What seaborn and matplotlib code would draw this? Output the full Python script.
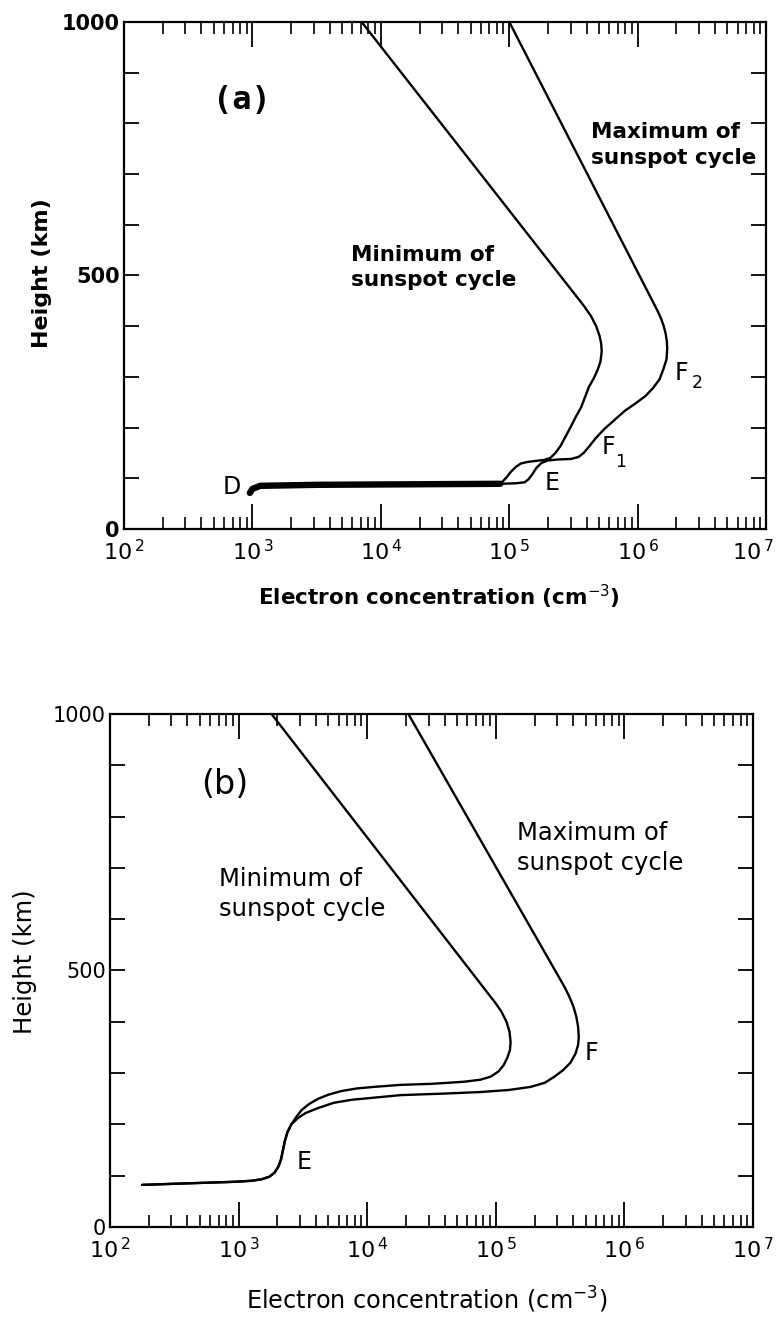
import matplotlib
matplotlib.use("Agg")
import matplotlib.pyplot as plt
import matplotlib.transforms as mtransforms
import numpy as np
import pandas as pd
import seaborn as sns
from matplotlib.ticker import LogLocator, MultipleLocator, NullFormatter

# ---------------------------------------------------------------------------
# Electron concentration versus height in the ionosphere
# (a) daytime profiles, (b) night-time profiles, at sunspot minimum / maximum
# Concentrations are stored as log10(cm^-3), heights in km.
# ---------------------------------------------------------------------------

# Panel (a) -- daytime, sunspot minimum
a_min_logn = [2.98, 3.00, 3.06, 3.50, 4.93, 4.95, 4.98, 5.01, 5.05, 5.09, 5.14,
              5.20, 5.27, 5.32, 5.36, 5.40, 5.44, 5.48, 5.52, 5.56, 5.59, 5.62,
              5.66, 5.69, 5.71, 5.72, 5.716, 5.704, 5.677, 5.636, 5.581, 3.85]
a_min_height = [71, 79, 85, 87, 89, 94, 102, 112, 122, 129, 132,
                134, 136, 140, 150, 164, 183, 202, 222, 240, 260, 280,
                298, 315, 330, 350, 365, 380, 400, 420, 440, 1000]

# Panel (a) -- daytime, sunspot maximum
a_max_logn = [2.98, 3.00, 3.06, 3.50, 4.93, 5.05, 5.12, 5.15, 5.18, 5.21, 5.25,
              5.30, 5.38, 5.48, 5.54, 5.58, 5.62, 5.67, 5.74, 5.82, 5.90, 5.98,
              6.06, 6.12, 6.17, 6.20, 6.225, 6.23, 6.227, 6.218, 6.203, 6.182,
              6.153, 5.00]
a_max_height = [71, 79, 85, 87, 89, 90, 92, 98, 108, 120, 130,
                135, 137, 138, 142, 150, 162, 178, 197, 215, 233, 247,
                262, 278, 295, 315, 335, 355, 370, 385, 400, 415,
                431, 1000]

# Shared D-region segment of the two daytime profiles
a_d_logn = [2.98, 3.00, 3.06, 3.50, 4.93]
a_d_height = [71, 79, 85, 87, 89]

# Panel (b) -- night-time, sunspot minimum
b_min_logn = [2.25, 2.60, 2.97, 3.10, 3.18, 3.24, 3.28, 3.31, 3.33, 3.345, 3.36,
              3.38, 3.41, 3.45, 3.49, 3.55, 3.62, 3.70, 3.80, 3.92, 4.05, 4.26,
              4.50, 4.75, 4.88, 4.96, 5.02, 5.06, 5.09, 5.11, 5.115, 5.107, 5.083,
              5.043, 4.996, 3.256]
b_min_height = [82, 85, 88, 90, 93, 98, 106, 118, 132, 150, 168,
                185, 200, 215, 228, 240, 250, 258, 265, 270, 273, 277,
                279, 283, 287, 293, 303, 315, 330, 345, 360, 380, 400,
                420, 437, 1000]

# Panel (b) -- night-time, sunspot maximum
b_max_logn = [2.25, 2.60, 2.97, 3.10, 3.18, 3.24, 3.28, 3.31, 3.33, 3.345, 3.36,
              3.38, 3.41, 3.46, 3.52, 3.62, 3.74, 3.88, 4.01, 4.26, 4.60, 4.88,
              5.10, 5.27, 5.38, 5.45, 5.52, 5.58, 5.62, 5.64, 5.645, 5.640, 5.626,
              5.603, 5.570, 5.534, 4.32]
b_max_height = [82, 85, 88, 90, 93, 98, 106, 118, 132, 150, 168,
                185, 200, 212, 222, 232, 242, 248, 251, 257, 260, 263,
                267, 273, 281, 292, 305, 320, 338, 355, 370, 390, 410,
                430, 450, 468, 1000]

# Axis ticks and labels
decades = [1e2, 1e3, 1e4, 1e5, 1e6, 1e7]
decade_labels = [r"$10^{\,2}$", r"$10^{\,3}$", r"$10^{\,4}$",
                 r"$10^{\,5}$", r"$10^{\,6}$", r"$10^{\,7}$"]
height_ticks = [0, 500, 1000]
height_labels = ["0", "500", "1000"]

sns.set_theme(style="ticks")
plt.rcParams["font.family"] = ["DejaVu Sans"]
plt.rcParams["mathtext.fontset"] = "dejavusans"
plt.rcParams["text.color"] = "black"
plt.rcParams["axes.labelcolor"] = "black"
plt.rcParams["xtick.color"] = "black"
plt.rcParams["ytick.color"] = "black"

fig = plt.figure(figsize=(7.83, 13.21), dpi=100)
fig.patch.set_facecolor("white")

ax_a = fig.add_axes([0.1584, 0.5996, 0.820, 0.3838])
ax_b = fig.add_axes([0.1405, 0.0712, 0.8212, 0.3883])

LINE_W = 1.7


def draw_profile(ax, logn, height, lw=LINE_W):
    df = pd.DataFrame({"conc": np.power(10.0, logn), "height": height})
    sns.lineplot(data=df, x="conc", y="height", sort=False, estimator=None,
                 color="black", linewidth=lw, ax=ax, legend=False)


def style_axes(ax, weight, ysize):
    ax.set_xscale("log")
    ax.set_xlim(decades[0], decades[-1])
    ax.set_ylim(height_ticks[0], height_ticks[-1])
    for sp in ax.spines.values():
        sp.set_visible(True)
        sp.set_linewidth(1.6)
        sp.set_color("black")
    ax.set_xticks(decades, decade_labels)
    ax.xaxis.set_minor_locator(LogLocator(base=10, subs=range(2, 10), numticks=20))
    ax.xaxis.set_minor_formatter(NullFormatter())
    ax.set_yticks(height_ticks, height_labels)
    ax.yaxis.set_minor_locator(MultipleLocator(100))
    ax.tick_params(axis="x", which="major", direction="in", length=18, width=1.3,
                   top=True, bottom=True, labelsize=16, pad=7)
    ax.tick_params(axis="x", which="minor", direction="in", length=8.5, width=1.2,
                   top=True, bottom=True)
    ax.tick_params(axis="y", which="both", direction="in", length=10.5, width=1.3,
                   left=True, right=True)
    ax.tick_params(axis="y", which="major", labelsize=ysize, pad=3)
    for lab in ax.get_yticklabels():
        lab.set_fontweight(weight)
    ax.set_xlabel("")
    ax.set_ylabel("")
    ax.set_facecolor("white")


XLABEL = r"Electron concentration (cm$^{-3}$)"
YLABEL = "Height (km)"
MIN_LABEL = "Minimum of\nsunspot cycle"
MAX_LABEL = "Maximum of\nsunspot cycle"

# ---------------- panel (a) ----------------
draw_profile(ax_a, a_min_logn, a_min_height)
draw_profile(ax_a, a_max_logn, a_max_height)
draw_profile(ax_a, a_d_logn, a_d_height, lw=4.6)
style_axes(ax_a, "bold", 15)

# keep the right-most decade label inside the figure
last = ax_a.get_xticklabels()[-1]
last.set_transform(last.get_transform()
                   + mtransforms.ScaledTranslation(-13 / 100, 0, fig.dpi_scale_trans))

ax_a.set_xlabel(XLABEL, fontsize=15.5, fontweight="bold")
ax_a.xaxis.set_label_coords(0.49, -0.134)
ax_a.xaxis.label.set_va("center")
ax_a.set_ylabel(YLABEL, fontsize=16, fontweight="bold")
ax_a.yaxis.set_label_coords(-0.128, 0.505)
ax_a.yaxis.label.set_va("center")

ax_a.text(8.3e2, 846, "(a)", family="DejaVu Sans Mono", fontweight="bold",
          fontsize=23, ha="center", va="center")
ax_a.text(5.9e3, 516, MIN_LABEL, fontsize=15.5, fontweight="bold",
          ha="left", va="center", linespacing=1.35)
ax_a.text(4.3e5, 757, MAX_LABEL, fontsize=15.5, fontweight="bold",
          ha="left", va="center", linespacing=1.35)
ax_a.text(6.9e2, 83, "D", fontsize=17, ha="center", va="center")
ax_a.text(2.15e5, 91, "E", fontsize=17, ha="center", va="center")
ax_a.text(5.9e5, 162, "F", fontsize=17, ha="center", va="center")
ax_a.text(7.4e5, 132, "1", fontsize=12.5, ha="center", va="center")
ax_a.text(2.2e6, 307, "F", fontsize=17, ha="center", va="center")
ax_a.text(2.9e6, 288, "2", fontsize=12.5, ha="center", va="center")

# ---------------- panel (b) ----------------
draw_profile(ax_b, b_min_logn, b_min_height)
draw_profile(ax_b, b_max_logn, b_max_height)
style_axes(ax_b, "normal", 15)

ax_b.set_xlabel(XLABEL, fontsize=17.3)
ax_b.xaxis.set_label_coords(0.493, -0.142)
ax_b.xaxis.label.set_va("center")
ax_b.set_ylabel(YLABEL, fontsize=17.5)
ax_b.yaxis.set_label_coords(-0.132, 0.517)
ax_b.yaxis.label.set_va("center")

ax_b.text(7.8e2, 862, "(b)", fontsize=24, ha="center", va="center")
ax_b.text(7.0e2, 649, MIN_LABEL, fontsize=17.5,
          ha="left", va="center", linespacing=1.3)
ax_b.text(1.45e5, 739, MAX_LABEL, fontsize=17.5,
          ha="left", va="center", linespacing=1.3)
ax_b.text(5.5e5, 339, "F", fontsize=17, ha="center", va="center")
ax_b.text(3.25e3, 127, "E", fontsize=17, ha="center", va="center")

fig.savefig("out.png", dpi=100, facecolor="white")
